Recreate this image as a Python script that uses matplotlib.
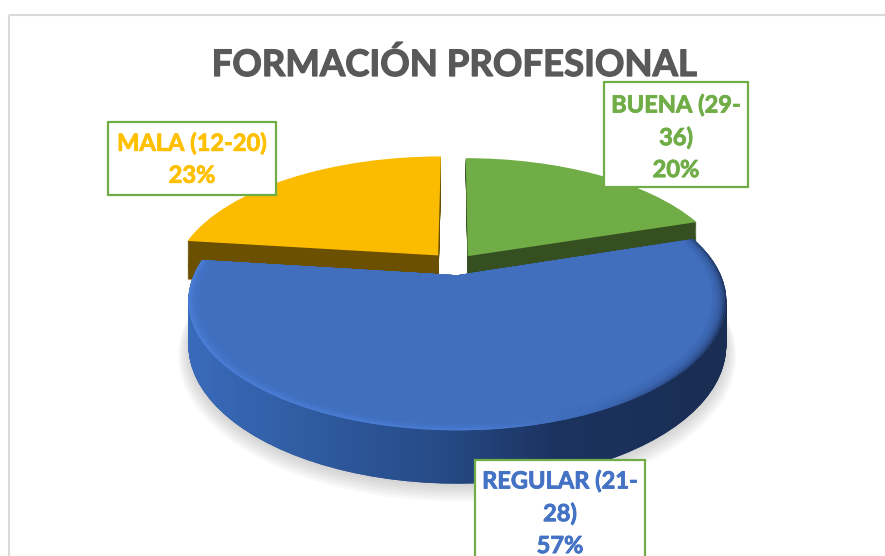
import matplotlib
matplotlib.use("Agg")
import matplotlib.pyplot as plt
import matplotlib.patheffects as pe
import numpy as np
from matplotlib.transforms import Transform
from matplotlib.path import Path
from matplotlib.patches import Rectangle
from matplotlib.colors import LinearSegmentedColormap

# ---- data -----------------------------------------------------------
title = "FORMACIÓN PROFESIONAL"
categories = ["BUENA (29-\n36)", "REGULAR (21-\n28)", "MALA (12-20)"]
values = [20, 57, 23]
percent_labels = ["20%", "57%", "23%"]

# ---- styles ---------------------------------------------------------
top_colors = ["#70AD47", "#416FBE", "#FBBC00"]
side_colors = ["#364F21", "#2A4F8F", "#6A5000"]
text_colors = ["#70AD47", "#4472C4", "#FFC000"]
explode = [0.085, 0.09, 0.1]
BUENA, REGULAR, MALA = 0, 1, 2
depths = {BUENA: 24, REGULAR: 42, MALA: 40}
radii = {BUENA: 1.0, REGULAR: 1.0, MALA: 1.015}

plt.rcParams["font.family"] = ["Lato", "DejaVu Sans"]
fig = plt.figure(figsize=(8.85, 5.56), dpi=100)
ax = fig.add_axes([0, 0, 1, 1])


class Perspective(Transform):
    """Tilted-plane projection of the unit pie into pixel coordinates."""
    input_dims = 2
    output_dims = 2
    is_affine = False
    ox, oy, a, s, k = 455.0, 264.3, 259.0, 120.0, 0.195

    def __init__(self, z=0.0):
        super().__init__()
        self.z = z

    def transform_non_affine(self, xy):
        xy = np.asarray(xy, float)
        w = 1 + self.k * xy[:, 1]
        return np.column_stack((self.ox + self.a * xy[:, 0] / w,
                                self.oy + (-self.s * xy[:, 1] + self.z) / w))

    def transform_path_non_affine(self, path):
        return Path(self.transform_non_affine(path.vertices), path.codes)


order = [10]


def layer(which, z=0.0, radius=1.0, color=None, alpha=None):
    wedges, _ = ax.pie(values, explode=explode, startangle=90, counterclock=False,
                       radius=radius, colors=top_colors,
                       wedgeprops=dict(linewidth=0))
    keep = None
    for i, w in enumerate(wedges):
        if i != which:
            w.remove()
            continue
        w.set_transform(Perspective(z) + ax.transData)
        if color is not None:
            w.set_facecolor(color)
        if alpha is not None:
            w.set_alpha(alpha)
        w.set_zorder(order[0])
        order[0] += 1
        keep = w
    return keep


def gradient(colors, clip_paths, x0=185, x1=730, y0=150, y1=495):
    cmap = LinearSegmentedColormap.from_list("g", colors)
    im = ax.imshow(np.linspace(0, 1, 256)[None, :], cmap=cmap, aspect="auto",
                   extent=(x0, x1, y1, y0), interpolation="bilinear")
    im.set_clip_path(Path.make_compound_path(*clip_paths), ax.transData)
    im.set_zorder(order[0])
    order[0] += 1


# soft shadow under the blue slice
for r, extra in zip(np.linspace(1.035, 1.0, 7), np.linspace(8, 2, 7)):
    layer(REGULAR, z=depths[REGULAR] + extra, radius=r, color="#7F7F7F", alpha=0.05)

# back slices: side layers, then top surface
for idx in (MALA, BUENA):
    for z in np.arange(depths[idx], 0, -1.0):
        layer(idx, z=z, radius=radii[idx], color=side_colors[idx])
    layer(idx, radius=radii[idx])

# blue slice: extruded side with a horizontal gradient
side_paths = []
for z in np.linspace(depths[REGULAR], 0, 45):
    w = layer(REGULAR, z=z, color=side_colors[REGULAR])
    side_paths.append(Perspective(z).transform_path(w.get_path()))
gradient([(0.0, "#3A6BBB"), (0.25, "#2F5A9F"), (0.48, "#264A85"),
          (0.68, "#1C3360"), (1.0, "#1A2D52")], side_paths)

# blue slice: bevelled rim, then flat surface
rim = layer(REGULAR)
gradient([(0.0, "#4B80DA"), (0.55, "#4A7DD4"), (0.75, "#3C68B2"),
          (0.92, "#28457F"), (1.0, "#1D3158")],
         [Perspective(0).transform_path(rim.get_path())], y0=170)
for r in np.linspace(0.995, 0.955, 6):
    layer(REGULAR, radius=r, color=top_colors[REGULAR], alpha=0.35)
layer(REGULAR, radius=0.95)

# chart frame
ax.add_patch(Rectangle((9, 15), 900, 560, fc="none", ec="#D9D9D9", lw=1.5, zorder=1))

# data labels
boxes = {MALA: (108, 122, 168, 73), BUENA: (604, 82, 144, 105), REGULAR: (475, 460, 170, 110)}
centers = {MALA: (192, 159), BUENA: (676, 137), REGULAR: (560, 513)}
for i, cat in enumerate(categories):
    x, y, bw, bh = boxes[i]
    ax.add_patch(Rectangle((x, y), bw, bh, fc="white", ec="#70AD47", lw=1.6, zorder=1000))
    cx, cy = centers[i]
    ax.text(cx, cy, cat + "\n" + percent_labels[i], ha="center", va="center",
            color=text_colors[i], fontsize=17, fontweight="bold",
            linespacing=1.47, zorder=1001,
            path_effects=[pe.withStroke(linewidth=0.6, foreground=text_colors[i])])

ax.text(454, 76, title, ha="center", va="baseline", color="#595959",
        fontsize=26.3, fontweight="bold", zorder=1001,
        path_effects=[pe.withStroke(linewidth=0.9, foreground="#595959")])

ax.set(xlim=(0, 885), ylim=(556, 0), aspect="auto")
ax.set_position([0, 0, 1, 1])
ax.set_axis_off()
fig.savefig("out.png", dpi=100, facecolor="white")
